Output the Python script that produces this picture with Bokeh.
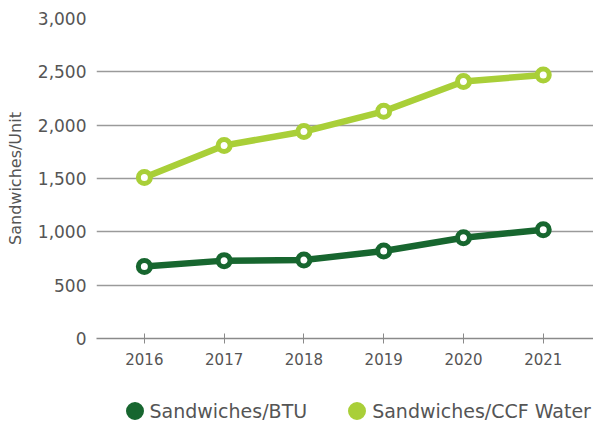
from bokeh.plotting import figure
from bokeh.layouts import column
from bokeh.models import Range1d, Legend, LegendItem, NumeralTickFormatter, FixedTicker
from bokeh.embed import file_html
from bokeh.resources import INLINE

years = [2016, 2017, 2018, 2019, 2020, 2021]
btu = [675, 730, 735, 820, 945, 1020]
ccf = [1510, 1810, 1940, 2130, 2410, 2470]
y_ticks = [0, 500, 1000, 1500, 2000, 2500, 3000]

DARK = "#17662f"
LIGHT = "#a9cf38"
TEXT = "#555555"
FONT = "DejaVu Sans"

p = figure(width=593, height=380, output_backend="svg", toolbar_location=None,
           x_range=Range1d(2015.4, 2021.63), y_range=Range1d(0, 3000),
           min_border_left=96, min_border_right=0, min_border_top=18, min_border_bottom=42)
p.outline_line_color = None
p.background_fill_color = "white"
p.border_fill_color = "white"

p.xgrid.grid_line_color = None
p.ygrid.grid_line_color = "#9a9a9a"
p.ygrid.grid_line_width = 1.3

p.xaxis.ticker = FixedTicker(ticks=years)
p.xaxis.axis_line_color = "#8a8a8a"
p.xaxis.axis_line_width = 1.3
p.xaxis.major_tick_line_color = "#8a8a8a"
p.xaxis.major_tick_in = 5
p.xaxis.major_tick_out = 5
p.xaxis.minor_tick_line_color = None
p.xaxis.major_label_text_font = FONT
p.xaxis.major_label_text_font_size = "15px"
p.xaxis.major_label_text_color = TEXT
p.xaxis.major_label_standoff = 9

p.yaxis.ticker = FixedTicker(ticks=y_ticks)
p.yaxis.formatter = NumeralTickFormatter(format="0,0")
p.yaxis.axis_line_color = None
p.yaxis.major_tick_line_color = None
p.yaxis.minor_tick_line_color = None
p.yaxis.major_label_text_font = FONT
p.yaxis.major_label_text_font_size = "17px"
p.yaxis.major_label_text_color = TEXT
p.yaxis.major_label_standoff = 4
p.yaxis.axis_label = "Sandwiches/Unit"
p.yaxis.axis_label_text_font = FONT
p.yaxis.axis_label_text_font_size = "16px"
p.yaxis.axis_label_text_font_style = "normal"
p.yaxis.axis_label_text_color = TEXT
p.yaxis.axis_label_standoff = 10

for vals, col in [(btu, DARK), (ccf, LIGHT)]:
    p.line(years, vals, line_color=col, line_width=6.5)
    p.scatter(years, vals, size=12, fill_color="white", line_color=col, line_width=5)

# legend-only strip below the chart
lg = figure(width=593, height=45, output_backend="svg", toolbar_location=None,
            x_range=Range1d(2015.4, 2021.63), y_range=Range1d(0, 3000),
            min_border=0)
lg.axis.visible = False
lg.grid.visible = False
lg.outline_line_color = None
leg_btu = lg.scatter(years, btu, size=10, fill_color=DARK, line_color=DARK,
                     line_width=8, visible=False)
leg_ccf = lg.scatter(years, ccf, size=10, fill_color=LIGHT, line_color=LIGHT,
                     line_width=8, visible=False)

legend = Legend(items=[LegendItem(label="Sandwiches/BTU", renderers=[leg_btu]),
                       LegendItem(label="Sandwiches/CCF Water", renderers=[leg_ccf])],
                orientation="horizontal", location=(25.5, 2))
legend.label_text_font = FONT
legend.label_text_font_size = "19px"
legend.label_text_color = TEXT
legend.border_line_color = None
legend.background_fill_alpha = 0
legend.inactive_fill_alpha = 0
legend.spacing = 37
legend.glyph_width = 25
legend.glyph_height = 25
legend.label_height = 25
legend.label_standoff = 3
legend.margin = 0
legend.padding = 0
lg.add_layout(legend, "center")

open("out.html", "w").write(file_html(column(p, lg, spacing=0), INLINE))
